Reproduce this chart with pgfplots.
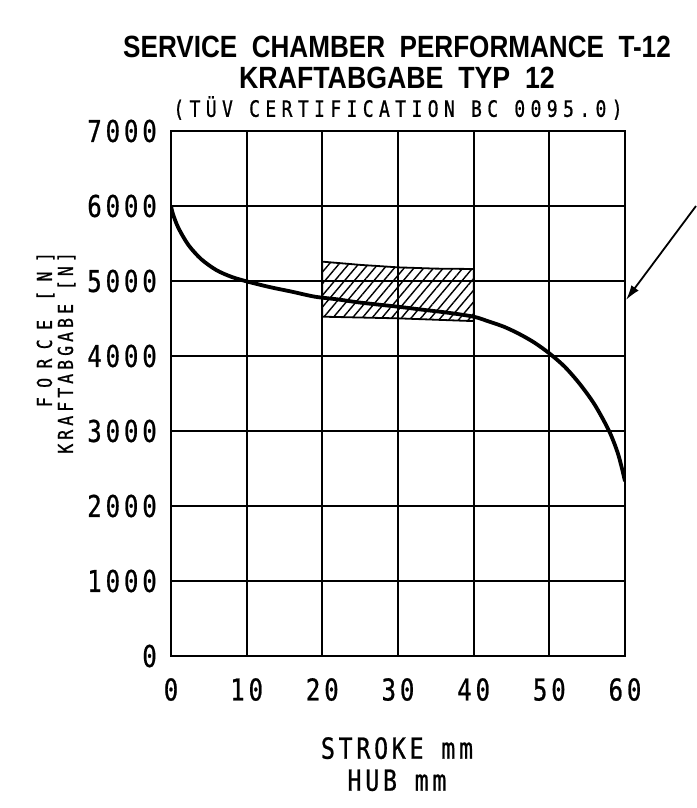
\documentclass[border=0pt]{standalone}
\usepackage{fontspec}
\usepackage{pgfplots}
\pgfplotsset{compat=1.18}
\usetikzlibrary{patterns.meta,arrows.meta}
\setmainfont{DejaVu Sans Mono}
\newfontfamily\cad[FakeStretch=0.8,FakeBold=0.8]{DejaVu Sans Mono}
\newfontfamily\titlefont[FakeStretch=0.85]{Liberation Sans}
\newfontfamily\titlefontb[FakeStretch=0.87]{Liberation Sans}
\begin{document}
\begin{tikzpicture}
\useasboundingbox (-171pt,-152pt) rectangle (525pt,656pt);
\begin{axis}[
  scale only axis, width=454pt, height=525pt,
  xmin=0, xmax=60, ymin=0, ymax=7000,
  xtick={0,10,...,60}, ytick={0,1000,...,7000},
  xticklabels={0,10,20,30,40,50,60},
  yticklabels={0,1000,2000,3000,4000,5000,6000,7000},
  scaled y ticks=false, scaled x ticks=false,
  major tick length=0pt,
  grid=major,
  major grid style={black,line width=2pt},
  axis line style={line width=2.6pt},
  tick label style={font=\cad\fontsize{30}{32}\selectfont\addfontfeature{LetterSpace=13}},
  xticklabel style={anchor=north, inner sep=0pt, yshift=-22pt},
  yticklabel style={anchor=east, inner sep=0pt, xshift=-14pt},
]
\addplot[draw=black, line width=1.8pt,
  pattern={Lines[angle=50,distance=7.5pt,line width=1.4pt]}]
  coordinates {(20,4524) (20,5258) (25,5215) (30,5182) (35,5165) (40,5160) (40,4465) (30,4502)} -- cycle;
\addplot[black, line width=3.8pt, smooth] coordinates {
(0,6000) (0.3,5880) (1,5703) (2.3,5480) (4,5290) (6,5145) (8,5055) (10,4995)
(13,4920) (16,4857) (19,4791) (22,4755) (25,4712) (30,4657) (33,4620) (36.6,4577)
(40,4524) (42,4460) (44,4390) (46,4295) (48,4180) (50,4035) (52,3860) (54,3630)
(56,3350) (57.9,3000) (59,2720) (59.6,2500) (60,2330)};
\end{axis}
\draw[line width=1.8pt, -{Latex[length=15pt,width=9pt]}] (525pt,450pt) -- (455pt,356pt);
\node[font=\titlefont\bfseries\fontsize{30.7}{36}\selectfont] at (226pt,609pt) {SERVICE\ \ CHAMBER\ \ PERFORMANCE\ \ T-12};
\node[font=\titlefontb\bfseries\fontsize{30.7}{36}\selectfont] at (226pt,578pt) {KRAFTABGABE\ \ TYP\ \ 12};
\node[font=\cad\fontsize{22.5}{26}\selectfont\addfontfeature{LetterSpace=24}] at (227pt,548pt) {(TÜV CERTIFICATION BC 0095.0)};
\node[rotate=90, anchor=east, align=right, inner sep=0pt,
  font=\cad\fontsize{20.5}{21}\selectfont\addfontfeature{LetterSpace=20}] at (-115pt,404pt)
  {{\addfontfeature{LetterSpace=46}FORCE [N]}\\KRAFTABGABE [N]};
\node[anchor=north, align=center, inner sep=0pt,
  font=\cad\fontsize{29}{32}\selectfont\addfontfeature{LetterSpace=13}] at (226pt,-81pt)
  {STROKE mm\\HUB mm};
\end{tikzpicture}
\end{document}
